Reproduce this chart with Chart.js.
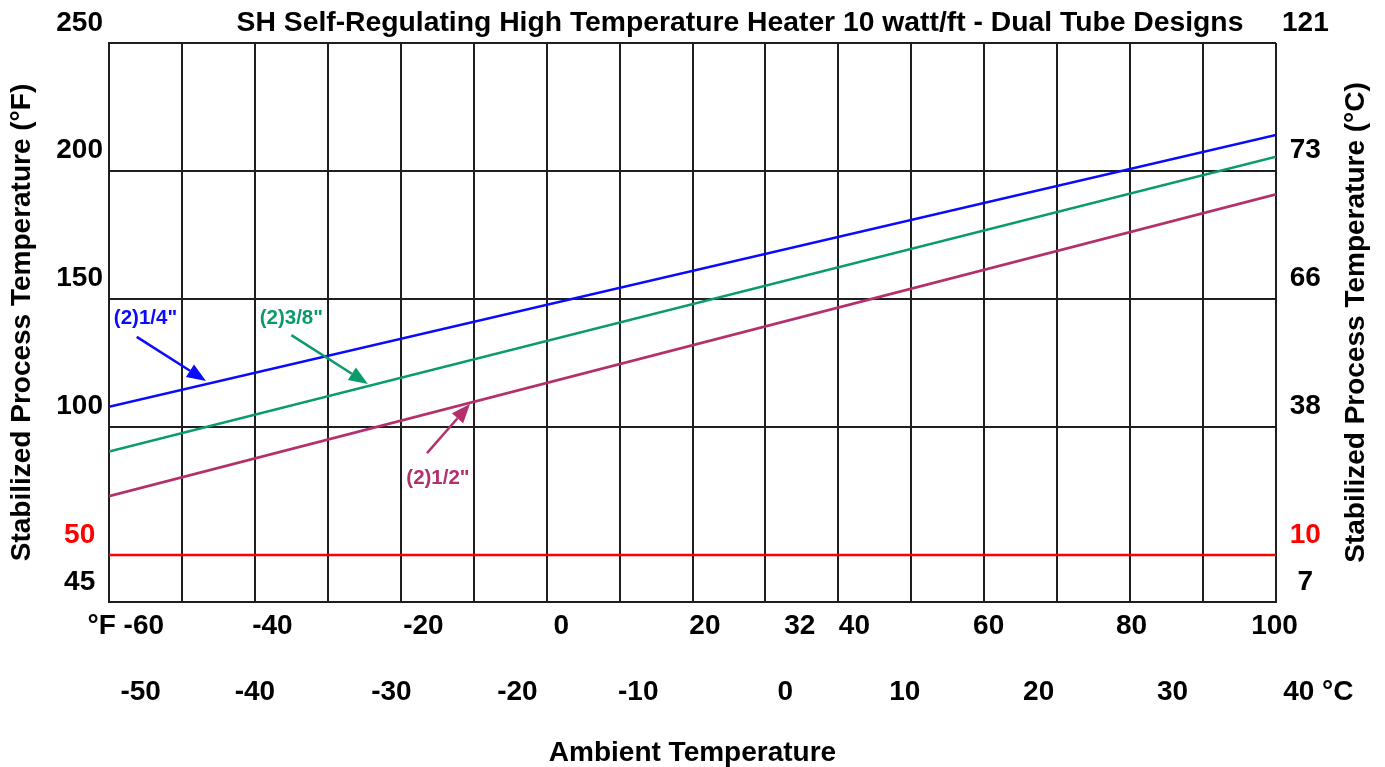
<!DOCTYPE html>
<html lang="en">
<head>
<meta charset="UTF-8">
<title>SH Self-Regulating High Temperature Heater 10 watt/ft - Dual Tube Designs</title>
<script src="https://cdn.jsdelivr.net/npm/chart.js"></script>
<style>
  html, body { margin: 0; padding: 0; background: #fff; }
</style>
</head>
<body>
<canvas id="heaterChart" width="1385" height="767"></canvas>
<script>
// ambient temperature (°F) at both ends of each curve
const ambientF = [-60, 100];
// stabilized process temperature (°F)
const quarterTube = [107.9, 214.1];     // (2)1/4"
const threeEighthTube = [90.4, 205.6];  // (2)3/8"
const halfTube = [73.0, 190.9];         // (2)1/2"
const limitLine = [50, 50];

// grid values
const gridF = [-60, -50, -40, -30, -20, -10, 0, 10, 20, 30, 40, 50, 60, 70, 80, 90, 100];
const gridY = [50, 100, 150, 200, 250];

// printed tick labels, and where the original sheet prints them
const fLabels = ['°F -60', '-40', '-20', '0', '20', '32', '40', '60', '80', '100'];
const fLabelAt = [-57.7, -37.6, -16.9, 2.0, 21.7, 34.7, 42.2, 60.6, 80.2, 99.8];
const cLabels = ['-50', '-40', '-30', '-20', '-10', '0', '10', '20', '30', '40 °C'];
const cLabelAt = [-48.7, -40.0, -29.6, -20.0, -10.8, 0.4, 9.5, 19.7, 29.9, 41.0];
const leftLabels = ['250', '200', '150', '100', '50', '45'];
const rightLabels = ['121', '73', '66', '38', '10', '7'];
const sideLabelAt = [257.7, 208.1, 158.0, 107.9, 57.8, 39.3];

const FONT = "'Liberation Sans', Arial, Helvetica, sans-serif";
const BLUE = '#0a0aff', GREEN = '#0b9a6a', PLUM = '#b3306c', RED = '#ff0000', GRID = '#1e1e1e';

// callouts: text position, arrow tail and arrow tip (°F, °F)
const callouts = [
  {text: '(2)1/4"', color: BLUE, at: [-55.0, 142.6], from: [-56.2, 135.2], to: [-46.7, 118.0]},
  {text: '(2)3/8"', color: GREEN, at: [-35.0, 142.6], from: [-35.0, 135.9], to: [-24.5, 116.8]},
  {text: '(2)1/2"', color: PLUM, at: [-14.9, 80.1], from: [-16.4, 89.8], to: [-10.5, 109.0]}
];

function pts(ys) {
  return ambientF.map((f, i) => ({x: f, y: ys[i]}));
}

function arrow(ctx, x1, y1, x2, y2, color) {
  const a = Math.atan2(y2 - y1, x2 - x1);
  const head = 19, half = 7.5;
  const bx = x2 - head * Math.cos(a), by = y2 - head * Math.sin(a);
  ctx.strokeStyle = color;
  ctx.lineWidth = 2.5;
  ctx.beginPath();
  ctx.moveTo(x1, y1);
  ctx.lineTo(bx, by);
  ctx.stroke();
  ctx.fillStyle = color;
  ctx.beginPath();
  ctx.moveTo(x2, y2);
  ctx.lineTo(bx + half * Math.sin(a), by - half * Math.cos(a));
  ctx.lineTo(bx - half * Math.sin(a), by + half * Math.cos(a));
  ctx.closePath();
  ctx.fill();
}

const extras = {
  id: 'extras',
  afterDraw(chart) {
    const {ctx, chartArea, scales: {x, y}} = chart;
    ctx.save();
    ctx.textAlign = 'center';
    ctx.textBaseline = 'middle';

    // chart title
    ctx.fillStyle = '#000';
    ctx.font = 'bold 28.3px ' + FONT;
    ctx.fillText('SH Self-Regulating High Temperature Heater 10 watt/ft - Dual Tube Designs', 740, 23);

    // right axis title, reading bottom to top
    ctx.font = 'bold 28px ' + FONT;
    ctx.save();
    ctx.translate(1356, (chartArea.top + chartArea.bottom) / 2);
    ctx.rotate(-Math.PI / 2);
    ctx.fillText('Stabilized Process Temperature (°C)', 0, 0);
    ctx.restore();

    // callouts
    ctx.font = 'bold 20.5px ' + FONT;
    callouts.forEach(c => {
      arrow(ctx, x.getPixelForValue(c.from[0]), y.getPixelForValue(c.from[1]),
            x.getPixelForValue(c.to[0]), y.getPixelForValue(c.to[1]), c.color);
      ctx.fillStyle = c.color;
      ctx.fillText(c.text, x.getPixelForValue(c.at[0]), y.getPixelForValue(c.at[1]));
    });
    ctx.restore();
  }
};

function fixSize(prop, size) {
  return s => {
    s[prop] = size;
    s.paddingLeft = s.paddingRight = s.paddingTop = s.paddingBottom = 0;
  };
}

const tickFont = {family: FONT, size: 28, weight: 'bold'};

new Chart(document.getElementById('heaterChart'), {
  type: 'line',
  data: {
    datasets: [
      {label: '(2)1/4"', data: pts(quarterTube), borderColor: BLUE},
      {label: '(2)3/8"', data: pts(threeEighthTube), borderColor: GREEN},
      {label: '(2)1/2"', data: pts(halfTube), borderColor: PLUM},
      {label: 'limit', data: pts(limitLine), borderColor: RED}
    ]
  },
  options: {
    responsive: false,
    animation: false,
    layout: {padding: {top: 43, left: 0, right: 0, bottom: 0}},
    elements: {
      point: {radius: 0},
      line: {borderWidth: 2.6, tension: 0}
    },
    plugins: {
      legend: {display: false},
      tooltip: {enabled: false},
      title: {display: false}
    },
    scales: {
      x: {
        type: 'linear', position: 'bottom', weight: 0, min: -60, max: 100,
        afterBuildTicks: s => { s.ticks = gridF.map(v => ({value: v})); },
        ticks: {display: false},
        grid: {color: GRID, lineWidth: 2, drawTicks: false},
        border: {display: true, color: GRID, width: 2},
        afterFit: fixSize('height', 0)
      },
      xF: {
        type: 'linear', position: 'bottom', weight: 1, min: -60, max: 100,
        afterBuildTicks: s => { s.ticks = fLabelAt.map(v => ({value: v})); },
        ticks: {autoSkip: false, maxRotation: 0, padding: 7, font: tickFont, color: '#000',
                callback: (v, i) => fLabels[i]},
        grid: {display: false, drawTicks: false},
        border: {display: false},
        afterFit: fixSize('height', 40)
      },
      xC: {
        type: 'linear', position: 'bottom', weight: 2, min: (-60 - 32) / 1.8, max: (100 - 32) / 1.8,
        afterBuildTicks: s => { s.ticks = cLabelAt.map(v => ({value: v})); },
        ticks: {autoSkip: false, maxRotation: 0, padding: 33, font: tickFont, color: '#000',
                callback: (v, i) => cLabels[i]},
        grid: {display: false, drawTicks: false},
        border: {display: false},
        title: {display: true, text: 'Ambient Temperature', color: '#000', padding: 0,
                font: {family: FONT, size: 28, weight: 'bold', lineHeight: 1}},
        afterFit: fixSize('height', 125)
      },
      y: {
        type: 'linear', position: 'left', weight: 0, min: 250 - 559 / 2.56, max: 250,
        afterBuildTicks: s => { s.ticks = gridY.map(v => ({value: v})); },
        ticks: {display: false},
        grid: {color: GRID, lineWidth: 2, drawTicks: false},
        border: {display: true, color: GRID, width: 2},
        afterFit: fixSize('width', 0)
      },
      yL: {
        type: 'linear', position: 'left', weight: 1, min: 250 - 559 / 2.56, max: 250,
        afterBuildTicks: s => { s.ticks = sideLabelAt.map(v => ({value: v})); },
        ticks: {autoSkip: false, padding: 6, crossAlign: 'center', font: tickFont,
                color: c => leftLabels[c.index] === '50' ? RED : '#000',
                callback: (v, i) => leftLabels[i]},
        grid: {display: false, drawTicks: false},
        border: {display: false},
        title: {display: true, text: 'Stabilized Process Temperature (°F)', color: '#000',
                padding: {top: 8, bottom: 0},
                font: {family: FONT, size: 28, weight: 'bold', lineHeight: 1}},
        afterFit: fixSize('width', 109)
      },
      yR: {
        type: 'linear', position: 'right', weight: 1, min: 250 - 559 / 2.56, max: 250,
        afterBuildTicks: s => { s.ticks = sideLabelAt.map(v => ({value: v})); },
        ticks: {autoSkip: false, padding: 6, crossAlign: 'center', font: tickFont,
                color: c => rightLabels[c.index] === '10' ? RED : '#000',
                callback: (v, i) => rightLabels[i]},
        grid: {display: false, drawTicks: false},
        border: {display: false},
        afterFit: fixSize('width', 109)
      }
    }
  },
  plugins: [extras]
});
</script>
</body>
</html>
